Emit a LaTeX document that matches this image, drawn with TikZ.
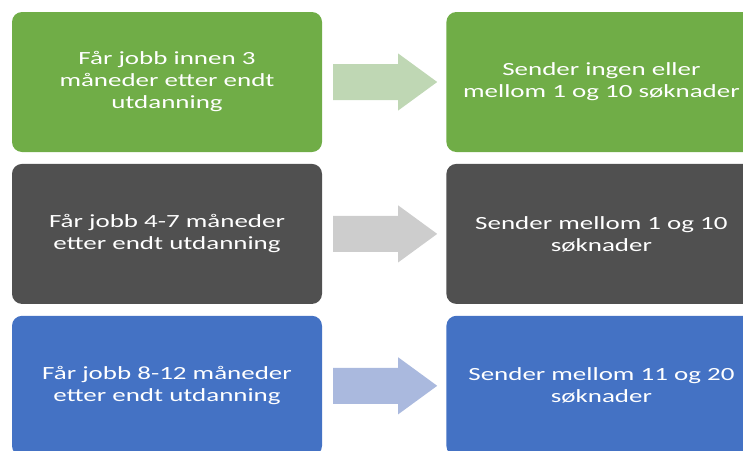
\documentclass[tikz,border=0pt]{standalone}
\usepackage{fontspec}
\setmainfont{Carlito}[FakeStretch=1.45]
\usetikzlibrary{calc, positioning}

\definecolor{boxgrn}{HTML}{70AD47}
\definecolor{boxgry}{HTML}{505050}
\definecolor{boxblu}{HTML}{4472C4}
\definecolor{arrgrn}{HTML}{BFD7B4}
\definecolor{arrgry}{HTML}{CDCDCD}
\definecolor{arrblu}{HTML}{AAB9DE}

\begin{document}
\begin{tikzpicture}[x=1pt, y=-1pt, node distance=11.5pt and 124pt,
    box/.style={rectangle, rounded corners=10pt, minimum width=310pt,
        minimum height=140pt, inner sep=0pt, align=center, text=white,
        font=\fontsize{18.6}{22}\selectfont}]
    \path[use as bounding box, clip] (0,0) rectangle (743,450);

    \node[box, fill=boxgrn] (l1) at (167,82) {Får jobb innen 3\\måneder etter endt\\utdanning};
    \node[box, fill=boxgry, below = of l1] (l2) {Får jobb 4-7 måneder\\etter endt utdanning};
    \node[box, fill=boxblu, below = of l2] (l3) {Får jobb 8-12 måneder\\etter endt utdanning};
    \node[box, fill=boxgrn, right = of l1] (r1) {Sender ingen eller\\mellom 1 og 10 søknader};
    \node[box, fill=boxgry, right = of l2] (r2) {Sender mellom 1 og 10\\søknader};
    \node[box, fill=boxblu, right = of l3] (r3) {Sender mellom 11 og 20\\søknader};

    % block arrows between the columns
    \foreach \row/\col in {1/arrgrn, 2/arrgry, 3/arrblu}
        \fill[\col] ($(l\row.east)+(11,-18)$) -- ($(l\row.east)+(76,-18)$)
            -- ($(l\row.east)+(76,-28.5)$) -- ($(r\row.west)+(-9,0)$)
            -- ($(l\row.east)+(76,28.5)$) -- ($(l\row.east)+(76,18)$)
            -- ($(l\row.east)+(11,18)$) -- cycle;
\end{tikzpicture}
\end{document}
